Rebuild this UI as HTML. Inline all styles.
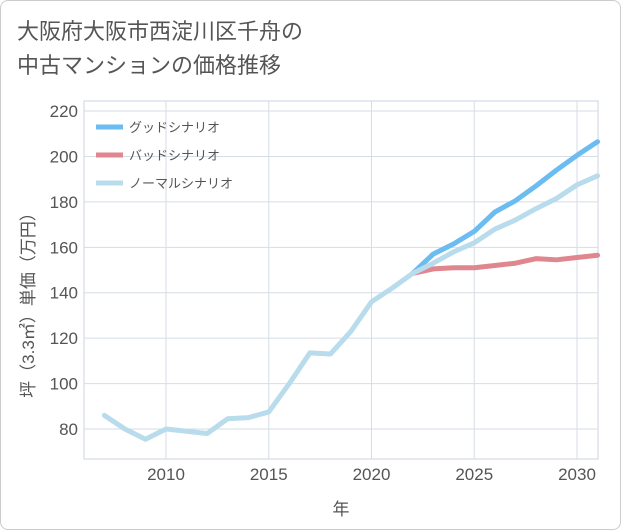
<!DOCTYPE html>
<html><head><meta charset="utf-8"><style>
body{margin:0;background:#fff;}
#wrap{position:relative;width:619px;height:528px;border:1px solid #ccc;border-radius:8px;overflow:hidden;background:#fff;font-family:"Liberation Sans","Noto Sans CJK JP",sans-serif;}
.title{position:absolute;left:16px;top:14px;font-size:22px;line-height:34px;color:#555;}
svg{position:absolute;left:0;top:0;}
</style></head><body>
<div id="wrap">
<div class="title">大阪府大阪市西淀川区千舟の<br>中古マンションの価格推移</div>
<svg id="chart" width="621" height="530"></svg>
</div>
<script>
const years=[2007,2008,2009,2010,2011,2012,2013,2014,2015,2016,2017,2018,2019,2020,2021,2022,2023,2024,2025,2026,2027,2028,2029,2030,2031];
const normalVals=[86,80,75.5,80,79,78,84.5,85,87.5,100,113.5,113,123,136,142,148.5,153,158,162,168,172,177,181.5,187.5,191.5];
const goodYears=[2022,2023,2024,2025,2026,2027,2028,2029,2030,2031];
const goodVals=[148.5,157,161.5,167,175.5,180.5,187,194,200.5,206.5];
const badVals=[148.5,150.5,151,151,152,153,155,154.5,155.5,156.5];
const yTicks=[80,100,120,140,160,180,200,220];
const xTicks=[2010,2015,2020,2025,2030];
const L=83,R=597,T=100,B=458;
const x=v=>165+(v-2010)*20.55;
const y=v=>428-(v-80)*2.271;
const svg=document.getElementById('chart');
const NS='http://www.w3.org/2000/svg';
function mk(t,a){const e=document.createElementNS(NS,t);for(const k in a)e.setAttribute(k,a[k]);svg.appendChild(e);return e;}
let e=mk('rect',{x:L,y:T,width:R-L,height:B-T,fill:'#fff',stroke:'#ccd6e0'});


yTicks.forEach(v=>{
 let g=mk('line',{x1:L,x2:R,y1:y(v),y2:y(v),stroke:'#d5dde6'});
 
 
 let t=mk('text',{x:L-6,y:y(v)+6,'text-anchor':'end','font-size':17,fill:'#555'});t.textContent=v;
 
 
});
xTicks.forEach(v=>{
 let g=mk('line',{x1:x(v),x2:x(v),y1:T,y2:B,stroke:'#d5dde6'});
 
 
 let t=mk('text',{x:x(v),y:B+21,'text-anchor':'middle','font-size':17,fill:'#555'});t.textContent=v;
 
 
});
function line(xs,vs,col,name){
 const p=mk('polyline',{points:xs.map((yr,i)=>x(yr)+','+y(vs[i])).join(' '),fill:'none',stroke:col,'stroke-width':5,'stroke-linejoin':'round','stroke-linecap':'round'});
 
 
}
line(goodYears,badVals,'#e0868e','bad-scenario-line');
line(goodYears,goodVals,'#6bbcf0','good-scenario-line');
line(years,normalVals,'#b8dcec','normal-scenario-line');
const leg=[['グッドシナリオ','#6bbcf0'],['バッドシナリオ','#e0868e'],['ノーマルシナリオ','#b8dcec']];
leg.forEach((l,i)=>{
 const yy=126+i*28;
 let ln=mk('line',{x1:95,x2:122,y1:yy,y2:yy,stroke:l[1],'stroke-width':5});
 
 
 let t=mk('text',{x:128,y:yy+5,'font-size':13,fill:'#555'});t.textContent=l[0];
 
 
});
let xt=mk('text',{x:340,y:514,'text-anchor':'middle','font-size':17,fill:'#555'});xt.textContent='年';


let yt=mk('text',{x:0,y:0,'text-anchor':'middle','font-size':17,fill:'#555',transform:'translate(33,300) rotate(-90)'});yt.textContent='坪（3.3㎡）単価（万円）';


</script>
</body></html>
